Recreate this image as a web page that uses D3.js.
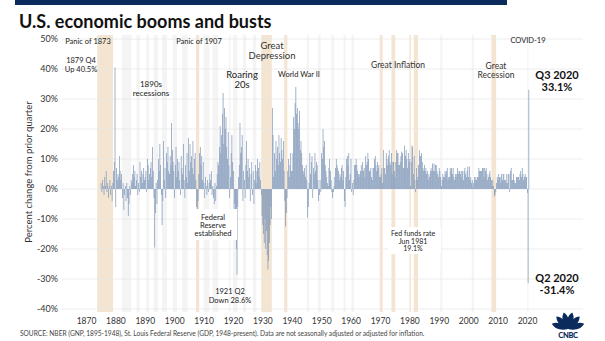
<!DOCTYPE html>
<html>
<head>
<meta charset="utf-8">
<script src="https://cdn.jsdelivr.net/npm/d3@7/dist/d3.min.js"></script>
<style>
  html, body { margin: 0; padding: 0; background: #fff; }
  svg { display: block; font-family: Lato, "Open Sans", sans-serif; }
</style>
</head>
<body>
<svg id="chart" width="605" height="341"></svg>
<script>
// quarterly percent change, by decade (first series starts 1875 Q1)
const g1870s = [2, -1, 3, 1,  -2, 4, 1, 6,  -1, 2, -3, 1,  3, -2, 1, -4,  2, 6, 9, 40.5];
const g1880s = [-6, 7, 3, 5,  4, 11, 6, 3,  5, -3, 2, -7,  -2, 1, -4, 2,  -3, -9, -5, 1,
                -2, 3, 2, 5,  8, 4, 6, 1,  3, 5, -2, 2,  -1, 9, 4, 6,  2, 5, 7, 3];
const g1890s = [4, 6, -1, 10,  8, 3, 5, 7,  9, 4, 14, 6,  -3, -19.5, -8, 2,  -5, 3, 10, 6,
                15, 8, -2, -12,  -4, 16, 3, 7,  -3, 12, 9, 14,  6, 5, 11, 8,  22, 13, 9, 6];
const g1900s = [-3, 8, 14, 4,  10, 6, 9, 3,  -2, 11, 7, 5,  15, 3, -3, 8,  4, 12, 2, 17,
                6, 15, 9, 11,  7, 16, 5, 10,  12, 3, -6, -7.5,  -4, 5, 12, 14,  8, 11, 3, 9];
const g1910s = [2, -3, 4, 1,  -2, 3, -1, 2,  5, 3, 6, -2,  1, -3, -5, 2,  -4, 1, 5, 9,
                8, 14, 21, 12,  18, 25, 32, 15,  27, 20, 24, 14,  10, 19, 8, -3,  4, 12, 18, 9];
const g1920s = [6, -8, -5, -12,  -20, -28.6, -6, 4,  8, 22, 12, 14,  18, -4, 6, 3,  -3, 8, 16, 6,
                10, 4, 7, -4,  5, 9, -2, 6,  -5, 3, 8, 2,  6, 10, 7, 4,  9, 3, -2, -9];
const g1930s = [-12, -15, -18, -10,  -20, -14, -22, -26.8,  -24, -18, -12, -6,  -10, 27, 18, 4,  12, 6, 16, 10,
                14, 8, 18, 12,  9, 17, 13, 10,  16, 6, -4, -12.5,  -8, -3, 6, 10,  4, 8, 12, 6];
const g1940s = [6, 12, 24, 20,  28.6, 34, 25, 27,  22, 20, 26, 13,  16, 12, 8, 6,  5, 7, 4, 8,
                3, -9.5, -6, 2,  12, 5, 9, 11,  -3, 7, 5, 12,  6, 9, 8, 3,  -4, -2, 3, -1];
const g1950s = [12, 10, 20, 14,  16, 8, 6, 4,  2, 1, 7, 10,  6, 3, -1, -3,  -1, 1, 4, 7,
                10, 8, 7, 6,  3, 5, 4, 7,  8, 3, 6, -4,  -6, 4, 10, 11,  8, 12, 3, 5];
const g1960s = [10, -1, 2, -2,  3, 8, 8, 10,  8, 6, 5, 4,  5, 6, 8, 6,  9, 6, 7, 4,
                11, 8, 9, 12,  10, 6, 6, 7,  4, 3, 7, 7,  10, 11, 8, 6,  9, 7, 8, 4];
const g1970s = [4, 5, 7, 2,  13, 7, 7, 5,  12, 10, 8, 11,  13, 9, 8, 12,  5, 9, 9, 6,
                4, 9, 13, 12,  12, 8, 8, 9,  11, 12.5, 12, 7,  7, 14.5, 11, 13,  10, 7, 12, 9];
const g1980s = [10, 1, 9, 14.5,  14, 5, 11, 3,  -1, 7, 3, 4,  8, 12.9, 11, 11,  12, 9, 7, 6,
                8, 6, 7, 5,  6, 3, 5, 4,  6, 7, 6, 8.5,  6, 8.5, 6, 8,  8, 6, 5, 4];
const g1990s = [7, 6, 4, 1,  3, 5, 4, 4,  6, 5, 6, 7,  3, 4, 4, 7,  6, 7, 5, 7,
                4, 3, 5, 4,  5, 7, 5, 6,  6, 5, 6, 4,  6, 3, 6, 7,  5, 4, 6, 7.5];
const g2000s = [4, 7.5, 3, 4,  2, 3, 0.5, 2,  4, 3, 4, 3,  4, 4, 7, 6,  6, 6, 6, 7,
                7, 4, 7, 6,  7, 5, 3, 4,  5, 6, 4, 3,  1, 3, 1, -2.5,  -2, -1, 2, 4];
const g2010s = [3, 5, 4, 4,  2, 5, 3, 5,  5, 3, 3, 2,  5, 2, 5, 5,  -1, 6, 7, 3,
                3, 5, 3, 2,  2, 4, 4, 4,  4, 3, 5, 6,  4, 7, 5, 3,  4, 5, 4, 4];
const g2020s = [-1.3, -31.4, 33.1];

const firstYear = 1875;
const growth = [].concat(g1870s, g1880s, g1890s, g1900s, g1910s, g1920s, g1930s,
                         g1940s, g1950s, g1960s, g1970s, g1980s, g1990s, g2000s, g2010s, g2020s);

// NBER recession periods (decimal years); highlighted ones carry a flag
const recessions = [
  [1873.8, 1879.2, true], [1882.2, 1885.4], [1887.2, 1888.3], [1890.5, 1891.4], [1893.0, 1894.5],
  [1895.9, 1897.5], [1899.5, 1901.0], [1902.7, 1904.6], [1907.4, 1908.5, true], [1910.0, 1912.0],
  [1913.0, 1915.0], [1918.6, 1919.2], [1920.0, 1921.5], [1923.4, 1924.5], [1926.8, 1927.9],
  [1929.6, 1933.2, true], [1937.4, 1938.5, true], [1945.1, 1945.8], [1948.9, 1949.8], [1953.5, 1954.4],
  [1957.6, 1958.3], [1960.3, 1961.1], [1969.9, 1970.9, true], [1973.9, 1975.2, true], [1980.0, 1980.5, true],
  [1981.5, 1982.9, true], [1990.5, 1991.2], [2001.2, 2001.9], [2007.9, 2009.5, true], [2020.1, 2020.3]
];

const yTicks = [50, 40, 30, 20, 10, 0, -10, -20, -30, -40];
const xTicks = d3.range(1870, 2021, 10);

const svg = d3.select("#chart");

const x = d3.scaleLinear().domain([1870, 2020]).range([86, 527]);
const y = d3.scaleLinear().domain([-40, 50]).range([309, 39]);

// header strip and title
svg.append("rect").attr("x", 15).attr("y", 0).attr("width", 492).attr("height", 5).attr("fill", "#0b2b5c");
svg.append("text").attr("x", 19).attr("y", 28)
  .attr("font-size", 18).attr("font-weight", 700).attr("fill", "#111")
  .text("U.S. economic booms and busts");

// recession bands
svg.append("g").selectAll("rect")
  .data(recessions)
  .join("rect")
  .attr("x", d => x(d[0]))
  .attr("y", 35)
  .attr("width", d => Math.max(1.2, x(d[1]) - x(d[0])))
  .attr("height", 277)
  .attr("fill", d => d[2] ? "#f3e5d1" : "#f4f4f5");

// gridlines
svg.append("g").selectAll("line")
  .data(yTicks)
  .join("line")
  .attr("x1", 62).attr("x2", 583)
  .attr("y1", d => y(d)).attr("y2", d => y(d))
  .attr("stroke", "#e8e8e8").attr("stroke-width", 0.8);

// y axis labels
const yAxis = svg.append("g")
  .attr("transform", "translate(58,0)")
  .call(d3.axisLeft(y).tickValues(yTicks).tickFormat(d => d + "%").tickSize(0).tickPadding(0));
yAxis.select(".domain").remove();
yAxis.selectAll("text").attr("font-size", 9).attr("fill", "#333").attr("font-family", "Lato, sans-serif");

svg.append("text")
  .attr("transform", "translate(32,172) rotate(-90)")
  .attr("text-anchor", "middle").attr("font-size", 9.5).attr("fill", "#333")
  .text("Percent change from prior quarter");

// x axis labels
const xAxis = svg.append("g")
  .attr("transform", "translate(0,315)")
  .call(d3.axisBottom(x).tickValues(xTicks).tickFormat(d3.format("d")).tickSize(0).tickPadding(3));
xAxis.select(".domain").remove();
xAxis.selectAll("text").attr("font-size", 8.5).attr("fill", "#333").attr("font-family", "Lato, sans-serif");

// bars
const qw = x(firstYear + 0.25) - x(firstYear);
svg.append("g").selectAll("rect")
  .data(growth)
  .join("rect")
  .attr("x", (d, i) => x(firstYear + i / 4))
  .attr("y", d => y(Math.max(0, d)))
  .attr("width", qw)
  .attr("height", d => Math.abs(y(d) - y(0)))
  .attr("fill", "#8299b9");

// annotations
function label(lines, cx, cy, size, opts = {}) {
  const t = svg.append("text")
    .attr("text-anchor", "middle")
    .attr("font-size", size)
    .attr("font-weight", opts.bold ? 700 : 400)
    .attr("fill", opts.color || "#222");
  lines.forEach((s, i) => {
    t.append("tspan").attr("x", cx).attr("y", cy + i * (opts.lh || size * 1.1)).text(s);
  });
  return t;
}

svg.append("rect").attr("x", 189).attr("y", 209).attr("width", 48).attr("height", 31).attr("fill", "#fff");
svg.append("rect").attr("x", 388).attr("y", 227).attr("width", 53).attr("height", 27).attr("fill", "#fff");

label(["Panic of 1873"], 88, 44, 7.5);
label(["1879 Q4", "Up 40.5%"], 81, 63, 7.5, { lh: 8.5 });
label(["1890s", "recessions"], 151, 87, 8, { lh: 8.5 });
label(["Panic of 1907"], 199, 44, 7.5);
label(["Great", "Depression"], 272, 49, 9.5, { lh: 9.5, color: "#333" });
label(["Roaring", "20s"], 242, 78, 9.5, { lh: 9.5 });
label(["World War II"], 299, 77, 7.5);
label(["Great Inflation"], 398, 68, 8.5, { color: "#333" });
label(["Great", "Recession"], 496, 69, 8.5, { lh: 8.5, color: "#333" });
label(["COVID-19"], 528, 43, 7.5);
label(["Q3 2020", "33.1%"], 557, 79, 11, { bold: true, lh: 11.5, color: "#111" });
label(["Q2 2020", "-31.4%"], 557, 282, 11, { bold: true, lh: 11.5, color: "#111" });
label(["Federal", "Reserve", "established"], 213, 220, 7.5, { lh: 8 });
label(["1921 Q2", "Down 28.6%"], 230, 294, 7.5, { lh: 8.5 });
label(["Fed funds rate", "Jun 1981", "19.1%"], 413, 236, 7, { lh: 7.5 });

// source line
svg.append("text").attr("x", 20).attr("y", 336)
  .attr("font-size", 6.6).attr("fill", "#444")
  .text("SOURCE: NBER (GNP, 1895-1948), St. Louis Federal Reserve (GDP, 1948-present). Data are not seasonally adjusted or adjusted for inflation.");

// peacock mark
const logo = svg.append("g").attr("transform", "translate(568,329)").attr("fill", "#0b2b5c");
d3.range(6).forEach(i => {
  const a = -72 + i * 28.8;
  logo.append("path")
    .attr("d", "M0,0 C-4,-6 -4,-13 0,-17 C4,-13 4,-6 0,0 Z")
    .attr("transform", `rotate(${a})`);
});
logo.append("text").attr("x", 0).attr("y", 9).attr("text-anchor", "middle")
  .attr("font-size", 7.5).attr("font-weight", 900).attr("letter-spacing", -0.3).text("CNBC");
</script>
</body>
</html>
